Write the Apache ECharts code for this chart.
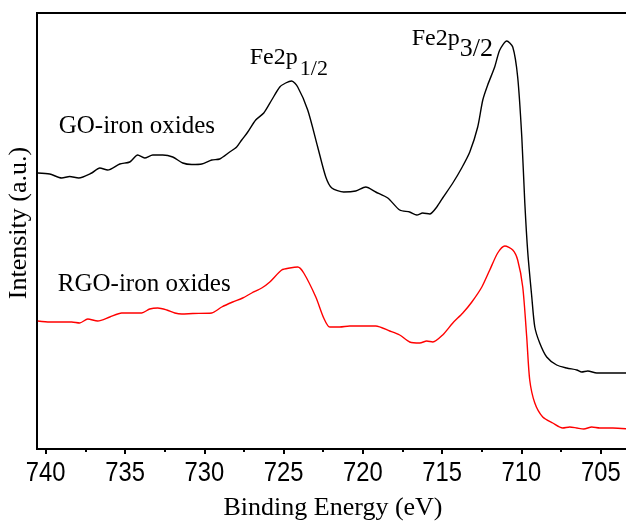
<!DOCTYPE html>
<html>
<head>
<meta charset="utf-8">
<title>Fe 2p XPS spectra</title>
<script src="https://cdn.jsdelivr.net/npm/echarts@6/dist/echarts.min.js"></script>
<style>
  html, body { margin: 0; padding: 0; background: #fff; }
  #chart { width: 626px; height: 524px; }
</style>
</head>
<body>
<div id="chart"></div>
<script>
// Binding energies (eV) and intensities (a.u.) for the Fe 2p region
const goEnergy = [740.50, 739.75, 738.99, 738.49, 737.92, 737.10, 736.59, 736.09, 735.33, 734.70,
  734.20, 733.76, 733.25, 732.62, 731.99, 731.36, 730.79, 730.16, 729.53, 729.03,
  728.40, 727.96, 727.64, 727.26, 726.76, 726.25, 725.75, 725.24, 724.87, 724.49,
  724.11, 723.48, 722.85, 722.34, 721.96, 721.21, 720.45, 719.82, 719.19, 718.43,
  717.68, 717.05, 716.60, 716.23, 715.78, 715.34, 714.97, 714.33, 713.77, 713.26,
  712.76, 712.44, 712.13, 711.69, 711.37, 710.93, 710.55, 710.24, 709.98, 709.79,
  709.60, 709.35, 709.16, 708.85, 708.41, 707.78, 707.15, 706.51, 706.20, 705.82,
  705.25, 704.43, 703.20];
const goIntensity = [276, 275, 271, 272.5, 271, 276, 281, 279, 285, 287,
  294, 291, 294, 294, 292, 286, 284.5, 285, 289, 290,
  297, 302, 309, 317, 329, 336, 349, 362, 366, 368,
  362, 339, 302, 272, 261, 257, 258, 262, 257, 251,
  239, 237, 234, 236, 235, 242, 251, 266, 281, 297,
  322, 349, 364, 382, 399, 408, 402, 372, 312, 246,
  196, 152, 122, 106, 92, 84, 81, 79, 77, 78,
  76, 76, 76];

const rgoEnergy = [740.50, 739.75, 739.12, 738.36, 737.86, 737.35, 736.72, 735.96, 735.21, 734.51,
  733.95, 733.44, 732.94, 732.37, 731.86, 731.42, 730.73, 729.53, 728.90, 728.21,
  727.58, 727.01, 726.38, 725.87, 725.12, 724.61, 724.11, 723.73, 722.97, 722.47,
  722.09, 721.46, 720.83, 720.20, 719.19, 718.31, 717.68, 717.05, 716.41, 715.97,
  715.59, 714.97, 714.33, 713.70, 713.13, 712.50, 712.00, 711.50, 711.05, 710.55,
  710.24, 709.92, 709.67, 709.48, 709.16, 708.66, 708.03, 707.40, 706.96, 706.51,
  706.07, 705.57, 705.06, 704.24, 703.20];
const rgoIntensity = [128, 127, 127, 127, 126, 130, 128, 132, 136, 136,
  136, 140, 141, 139, 136, 135, 135.5, 136, 142, 147,
  151, 156, 161, 167, 179, 181, 182, 176, 152, 131,
  122, 122, 123, 123, 123, 118, 114, 107, 106, 108,
  107, 114, 126, 136, 147, 162, 179, 196, 203, 199,
  189, 162, 112, 69, 46, 32, 26, 21, 22, 21,
  20, 22, 21, 21, 20];

// Axis extent and tick positions
const energyMin = 703.22;
const energyMax = 740.55;
const majorTicks = [705, 710, 715, 720, 725, 730, 735, 740];
const minorTicks = [707.5, 712.5, 717.5, 722.5, 727.5, 732.5, 737.5];
const intensityMax = 436;

// Text annotations, anchored in data space [energy, intensity]
const annotations = [
  { text: 'GO-iron oxides', coord: [739.18, 322.4], size: 25 },
  { text: 'RGO-iron oxides', coord: [739.24, 164.4], size: 25 },
  { text: 'Fe2p', coord: [727.14, 391], size: 24 },
  { text: '1/2', coord: [723.98, 379.4], size: 22 },
  { text: 'Fe2p', coord: [716.92, 410], size: 24 },
  { text: '3/2', coord: [713.89, 399.8], size: 26 }
];

const serif = "'Liberation Serif', 'Times New Roman', serif";
const sans = "'Liberation Sans', Arial, sans-serif";

function pairs(xs, ys) {
  return xs.map((x, i) => [x, ys[i]]);
}

const chart = echarts.init(document.getElementById('chart'), null, { renderer: 'canvas' });

chart.setOption({
  animation: false,
  backgroundColor: '#fff',
  grid: {
    left: 37, right: -3, top: 13, bottom: 75,
    outerBoundsMode: 'none', containLabel: false,
    show: true, borderColor: '#000', borderWidth: 2
  },
  xAxis: [
    {
      type: 'value', inverse: true, min: energyMin, max: energyMax,
      position: 'bottom',
      name: 'Binding Energy (eV)', nameLocation: 'middle', nameGap: 46,
      nameTextStyle: { fontFamily: serif, fontSize: 26, color: '#000' },
      axisLine: { show: true, lineStyle: { color: '#000', width: 2 } },
      axisTick: { show: true, length: 5, customValues: majorTicks, lineStyle: { color: '#000', width: 2 } },
      axisLabel: { show: false },
      splitLine: { show: false }
    },
    {
      type: 'value', inverse: true, min: energyMin, max: energyMax,
      position: 'bottom',
      axisLine: { show: false },
      axisTick: { show: true, length: 3, customValues: minorTicks, lineStyle: { color: '#000', width: 2 } },
      axisLabel: { show: false },
      splitLine: { show: false }
    }
  ],
  yAxis: {
    type: 'value', min: 0, max: intensityMax,
    axisLine: { show: true, lineStyle: { color: '#000', width: 2 } },
    axisTick: { show: false },
    axisLabel: { show: false },
    splitLine: { show: false }
  },
  series: [
    {
      name: 'GO-iron oxides', type: 'line', xAxisIndex: 0,
      data: pairs(goEnergy, goIntensity),
      showSymbol: false, smooth: 0.25,
      lineStyle: { color: '#000', width: 1.4 }
    },
    {
      name: 'RGO-iron oxides', type: 'line', xAxisIndex: 0,
      data: pairs(rgoEnergy, rgoIntensity),
      showSymbol: false, smooth: 0.25,
      lineStyle: { color: '#ff0000', width: 1.4 }
    }
  ]
});

// Place the annotation texts through the chart's own coordinate system
const graphics = annotations.map(a => {
  const p = chart.convertToPixel({ xAxisIndex: 0, yAxisIndex: 0 }, a.coord);
  return {
    type: 'text', x: p[0], y: p[1], z: 10,
    style: {
      text: a.text, fill: '#000', font: a.size + 'px ' + serif,
      align: 'left', verticalAlign: 'middle'
    }
  };
});

// Energy tick labels in a condensed sans face, placed under each major tick
const axisY = chart.convertToPixel({ yAxisIndex: 0 }, 0);
majorTicks.forEach(v => {
  const px = chart.convertToPixel({ xAxisIndex: 0 }, v);
  graphics.push({
    type: 'text', x: px, y: axisY + 10, scaleX: 0.85, z: 10,
    style: {
      text: String(v), fill: '#000', font: '28px ' + sans,
      align: 'center', verticalAlign: 'top'
    }
  });
});

// Vertical axis title
graphics.push({
  type: 'text', x: 19, y: 223, rotation: Math.PI / 2, z: 10,
  style: {
    text: 'Intensity (a.u.)', fill: '#000', font: '26px ' + serif,
    align: 'center', verticalAlign: 'middle'
  }
});

chart.setOption({ graphic: graphics });
</script>
</body>
</html>
